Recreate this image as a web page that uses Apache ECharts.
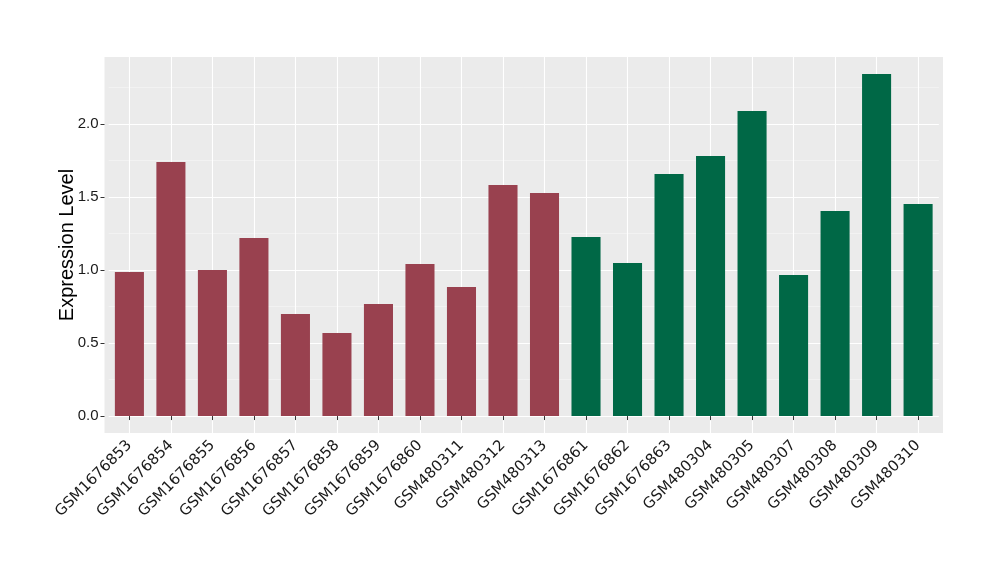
<!DOCTYPE html>
<html>
<head>
<meta charset="utf-8">
<script src="https://cdn.jsdelivr.net/npm/echarts@6/dist/echarts.min.js"></script>
<style>
html,body{margin:0;padding:0;background:#fff;}
#chart{width:1000px;height:580px;}
</style>
</head>
<body>
<div id="chart"></div>
<script>
var categories = ["GSM1676853","GSM1676854","GSM1676855","GSM1676856","GSM1676857","GSM1676858","GSM1676859","GSM1676860","GSM480311","GSM480312","GSM480313","GSM1676861","GSM1676862","GSM1676863","GSM480304","GSM480305","GSM480307","GSM480308","GSM480309","GSM480310"];
var values = [0.986,1.740,1.000,1.219,0.699,0.568,0.767,1.041,0.884,1.582,1.527,1.226,1.048,1.658,1.781,2.089,0.966,1.404,2.342,1.452];
var groups = ["a","a","a","a","a","a","a","a","a","a","a","b","b","b","b","b","b","b","b","b"];
var groupColors = {a:"#99414F", b:"#006846"};
var yMajorTicks = [0, 0.5, 1.0, 1.5, 2.0];
var yMinorTicks = [0.25, 0.75, 1.25, 1.75, 2.25];
var yMin = -0.116, yMax = 2.459;

var panelL = 104.5, panelR = 943, panelT = 57, panelB = 433;
var unit = (panelR - panelL) / (categories.length + 0.2);
var gridL = panelL + 0.1 * unit, gridR = panelR - 0.1 * unit;

var chart = echarts.init(document.getElementById('chart'), null, {renderer:'canvas'});
chart.setOption({
  animation:false,
  backgroundColor:'#ffffff',
  graphic:[{type:'rect', z:-100, silent:true,
    shape:{x:panelL, y:panelT, width:panelR-panelL, height:panelB-panelT},
    style:{fill:'#EBEBEB'}}],
  grid:{left:gridL, right:1000-gridR, top:panelT, bottom:580-panelB, containLabel:false},
  xAxis:{type:'category', data:categories,
    axisLine:{show:false},
    axisTick:{show:true, alignWithLabel:true, length:4, lineStyle:{color:'#333333', width:1}},
    splitLine:{show:true, alignWithLabel:true, lineStyle:{color:'#ffffff', width:1.1}},
    axisLabel:{rotate:45, interval:0, margin:10, color:'#1a1a1a', fontSize:15, fontFamily:'DejaVu Sans'}
  },
  yAxis:[{type:'value', min:yMin, max:yMax, offset:gridL-panelL,
    name:'Expression Level', nameLocation:'middle', nameGap:27, nameMoveOverlap:false,
    nameTextStyle:{fontSize:20, color:'#000', fontFamily:'Liberation Sans'},
    axisLine:{show:false},
    axisTick:{show:true, length:4, customValues:yMajorTicks, lineStyle:{color:'#333333'}},
    axisLabel:{customValues:yMajorTicks, margin:6, color:'#1a1a1a', fontSize:15, fontFamily:'Liberation Sans',
      formatter:function(v){return v.toFixed(1);}},
    splitLine:{show:true, lineStyle:{color:'#ffffff', width:1.1}}
  },{type:'value', min:yMin, max:yMax, position:'left',
    axisLine:{show:false}, axisLabel:{show:false},
    axisTick:{show:false, customValues:yMinorTicks},
    splitLine:{show:true, lineStyle:{color:'#F7F7F7', width:0.6}}
  }],
  series:[{type:'bar', yAxisIndex:0, barWidth:'70%',
    data: values.map(function(v,i){return {value:v, itemStyle:{color:groupColors[groups[i]]}};})
  }]
});
</script>
</body>
</html>
